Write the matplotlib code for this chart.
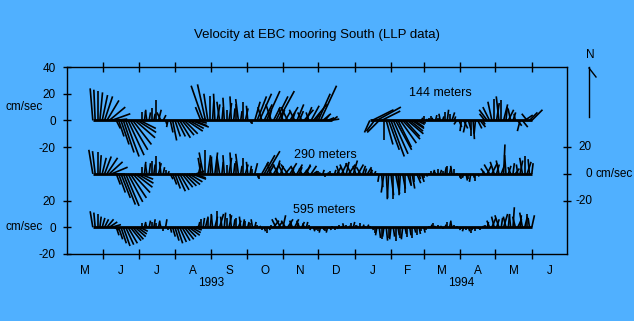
import numpy as np
import matplotlib
matplotlib.use('Agg')
import matplotlib.pyplot as plt
from matplotlib.collections import LineCollection
from matplotlib.lines import Line2D

nan = float('nan')

# ---------------- data ----------------
origin = np.datetime64('1993-05-01')
first_obs = np.datetime64('1993-05-23')
step_days = 2
end_date = np.datetime64('1994-07-01')

month_letters = ['M', 'J', 'J', 'A', 'S', 'O', 'N', 'D', 'J', 'F', 'M', 'A', 'M', 'J']
years = ['1993', '1994']
depth_labels = ['144 meters', '290 meters', '595 meters']

# 144 m (east / north components, cm/s)
u144 = [-2,-1,0, 2,4,6, 9,12,14, 10,3,4, 6,8,10,12,13, 14,15,14,12, 0,1,-1,1, 0,1,0,2, -3,2,1,
        -1,2,3,4, 6,8,9,10,12,11, 13,10,8,5,-4, -9,-6,-3, 0,1,-1,2,-2, 1,-1,0,2,-1,1,
        0,-2,1,0,2,-1, 1,0,4,7, 9,-3,6,10,2,-4, 5,9,12,3, -3,4,-5,6,2,-4,5,3,
        -3,7,4,-2,6,10,3, 9,12,6,3, 5,7,4,
        nan,nan,nan,nan,nan,nan,nan,nan,nan,nan,nan,nan,nan,nan,nan,
        -4,16,-6,18, -9,14,0, 5,8,10,11,12, 10,12,13,11,12, 10,9,7,6,5, 1,0,1,0,
        0,-1,1,0,-1,1,0, 1,0,2,1, -2,2,-1,3, -2,2,0,1,-1,3, 4,2,-4,-6,-5,
        -3,0,2,-2,0,3,1, 4,-2,2,-1,3, -2,4,6,-4,6,8]
v144 = [24,23,22, 21,19,18, 15,10,5, 1,-6,-12, -18,-24,-27,-26,-22, -18,-13,-9,-6, 6,8,7,6, 9,5,15,8, 6,4,-3,
        -5,-9,-15,-12, -12,-13,-11,-10,-8,-6, -5,-4,-2,1,10, 26,27,20, 18,15,20,12,14, 10,17,8,13,18,9,
        12,16,7,14,9,11, -2,-3,14,18, 20,10,12,22,8,12, 10,18,22,8, 9,7,10,10,6,8,12,7,
        6,8,10,6,11,12,5, 20,26,5,4, 2,1,3,
        nan,nan,nan,nan,nan,nan,nan,nan,nan,nan,nan,nan,nan,nan,nan,
        -9,8,-8,10, -9,7,-15, -18,-22,-27,-25,-22, -20,-17,-14,-12,-10, -8,-6,-5,-3,-2, 2,3,1,2,
        3,2,4,2,5,3,6, 8,5,6,3, -3,-5,-8,-6, -9,-7,-12,-14,-10,-6, -5,-3,5,8,10,
        14,16,13,18,15,12,10, 8,9,6,5,-4, -8,-5,4,5,6,8]

# 290 m
u290 = [-3,-2,0, 1,3,5, 8,10,12, 8,3,5, 7,9,10,11,12, 13,13,12,10, 0,1,-1,1, 0,1,0,2, -1,1,0,
        1,2,3,4, 6,7,8,9,10,10, 11,9,6,2,-2, -3,0,2, 1,-1,2,0,-2, 1,-1,0,2,-1,1,
        0,-2,1,0,2,-1, 1,0,2,1, 0,5,8,10,4,-3, 5,3,-4,2, -3,4,-5,5,1,-3,4,2,
        -2,5,3,-2,4,3,1, 0,-1,1,0, 1,0,-1,
        1,3,-2,4,-3,2,5,-4,3,-2,4,-3,2,1,3,
        2,-1,1,0, -1,1,-2, 1,-1,2,0,3, 1,-1,2,0,3, 1,2,0,3,1, 2,0,1,0,
        0,1,-1,0,1,0,1, 0,1,-1,0, 0,1,0,-1, 1,0,-1,1,0,1, 0,1,-3,3,-4,
        4,-3,2,-2,3,1,-1, 2,-2,1,3,-1, 2,-2,0,3,-1,1]
v290 = [18,17,16, 14,12,13, 12,9,5, 0,-8,-14, -18,-23,-24,-21,-18, -14,-10,-7,-4, 5,9,7,8, 10,7,13,8, 9,5,3,
        2,-4,-8,-11, -13,-12,-10,-9,-8,-6, -4,-3,2,8,12, 16,18,14, 13,12,16,11,13, 9,14,7,12,16,8,
        10,15,6,12,7,9, 6,4,8,-3, -4,9,14,17,7,8, 8,10,7,6, 6,5,7,8,4,6,7,5,
        4,6,7,3,6,2,1, 2,1,3,-2, 1,2,-1,
        3,5,6,8,7,9,7,8,10,6,7,5,6,4,5,
        3,4,2,1, -6,-10,-14, -18,-19,-16,-19,-15, -13,-16,-11,-14,-9, -8,-11,-6,-7,-4, -6,-3,-2,1,
        2,3,2,4,3,2,5, 6,5,6,4, 1,-3,-4,-3, -5,-4,-6,-3,-5,-2, -1,2,4,6,7,
        8,9,7,10,8,22,14, 6,5,8,4,7, 10,12,13,9,11,8]

# 595 m
u595 = [-2,-1,0, 1,2,3, 5,6,7, 4,2,3, 4,5,6,7,8, 8,8,7,6, 0,1,-1,1, 0,1,0,1, -1,0,1,
        0,1,2,3, 4,5,6,7,7,8, 7,6,3,1,0, 1,2,0, 1,-1,2,0,3, -1,1,0,2,-1,1,
        0,2,-1,1,0,1, 0,-1,1,0, 1,0,1,0,1,0, 4,-3,3,-4, 2,-3,4,1,-2,3,1,-2,
        2,-1,1,0,-1,1,0, 0,-1,1,0, -1,1,0,
        0,1,0,1,-1,0,1,0,1,0,-1,0,1,0,1,
        0,1,0,-1, 1,0,-1, 1,0,-1,1,0, 1,0,-1,1,0, 1,0,1,0,1, 0,1,0,0,
        1,0,-1,0,1,0,1, 0,1,-1,0, 0,1,0,-1, 0,1,0,-1,0,1, 0,1,0,1,-2,
        3,-2,2,-3,1,3,-2, 1,-1,1,-2,3, 1,-2,2,0,-1,2]
v595 = [12,11,10, 8,7,6, 6,4,2, -2,-6,-9, -12,-14,-13,-12,-10, -9,-7,-5,-3, 3,4,3,5, 4,6,3,5, 4,-3,6,
        -2,-4,-7,-10, -12,-11,-10,-9,-7,-6, -4,-2,1,4,6, 7,8,7, 9,10,8,12,10, 8,11,7,9,10,6,
        7,5,8,6,5,4, 3,6,4,2, 1,-2,-3,-4,-2,2, 5,6,4,7, 9,5,6,4,5,6,3,5,
        4,3,4,2,-2,-3,-2, -3,-4,-2,-3, -4,-2,1,
        -2,-1,2,1,3,2,1,3,4,2,1,3,2,1,2,
        1,-2,-4,-6, -8,-9,-7, -10,-8,-9,-7,-10, -6,-8,-9,-5,-7, -6,-8,-4,-6,-5, -3,-4,-2,1,
        2,3,1,2,1,-1,2, 4,5,4,2, 1,-2,-1,-3, -2,-3,-4,-2,-3,-1, -2,1,2,4,5,
        7,8,6,9,7,10,8, 10,9,15,8,6, 9,11,8,10,7,9]

# offsets (cm/s) of each record's zero line on the shared vertical scale
baselines = [80, 40, 0]

# ---------------- figure ----------------
BG = '#50B0FF'
W, H = 634, 321
plt.rcParams['font.family'] = ['Liberation Sans', 'DejaVu Sans']

fig = plt.figure(figsize=(W / 100, H / 100), dpi=100, facecolor=BG)
ax = fig.add_axes([67 / W, 67 / H, 500 / W, 187 / H])
ax.set_facecolor(BG)

xmax = float((end_date - origin).astype(int))
ax.set_xlim(0, xmax)
ax.set_ylim(-20, 120)

# month ticks
months = np.arange(np.datetime64('1993-05'), np.datetime64('1994-08'), dtype='datetime64[M]')
mstart = (months.astype('datetime64[D]') - origin).astype(float)
mids = (mstart[:-1] + mstart[1:]) / 2
ax.set_xticks(mstart[1:-1])
ax.set_xticklabels([])
ax.set_xticks(mids, minor=True)
ax.set_xticklabels(month_letters, minor=True)
ax.tick_params(axis='x', which='major', direction='inout', length=7, width=1,
               top=True, bottom=True)
ax.tick_params(axis='x', which='minor', length=0, pad=8, labelsize=8.5)

ax.set_yticks([120, 100, 80, 60, 20, 0, -20])
ax.set_yticklabels(['40', '20', '0', '-20', '20', '0', '-20'])
ax.tick_params(axis='y', direction='inout', length=6, width=1, pad=5, labelsize=8.5)
for s in ax.spines.values():
    s.set_linewidth(1)
    s.set_color('black')

ax2 = ax.twinx()
ax2.set_ylim(-20, 120)
ax2.set_yticks([60, 40, 20])
ax2.tick_params(axis='y', direction='inout', length=6, width=1, labelright=False)
ax2.patch.set_visible(False)
for s in ax2.spines.values():
    s.set_visible(False)

# stick scale so that vectors keep their true direction on screen
p0 = ax.transData.transform((0, 0))
p1 = ax.transData.transform((1, 1))
k = (p1[1] - p0[1]) / (p1[0] - p0[0])

t0 = float((first_obs - origin).astype(int))
for uu, vv, base in zip([u144, u290, u595], [v144, v290, v595], baselines):
    u = np.array(uu, dtype=float)
    v = np.array(vv, dtype=float)
    n = min(len(u), len(v))
    u, v = u[:n], v[:n]
    t = t0 + step_days * np.arange(n)
    ok = ~np.isnan(u) & ~np.isnan(v)
    segs = np.stack([np.column_stack([t[ok], np.full(ok.sum(), base)]),
                     np.column_stack([t[ok] + u[ok] * k, base + v[ok]])], axis=1)
    ax.add_collection(LineCollection(segs, colors='black', linewidths=1.2, capstyle='butt'))
    bl = np.where(ok, base, np.nan)
    ax.plot(t, bl, color='black', lw=2.0, solid_capstyle='butt')

# depth labels
ax.text(318, 100.5, depth_labels[0], ha='center', va='center', fontsize=9)
ax.text(220, 54, depth_labels[1], ha='center', va='center', fontsize=9)
ax.text(219, 13, depth_labels[2], ha='center', va='center', fontsize=9)

def fx(x):
    return x / W

def fy(y):
    return 1 - y / H

fig.text(fx(317), fy(35), 'Velocity at EBC mooring South (LLP data)', ha='center',
         va='center', fontsize=9.5)
fig.text(fx(211), fy(283), years[0], ha='center', va='center', fontsize=8.5)
fig.text(fx(461), fy(283), years[1], ha='center', va='center', fontsize=8.5)
fig.text(fx(5), fy(107), 'cm/sec', ha='left', va='center', fontsize=8.5)
fig.text(fx(5), fy(227), 'cm/sec', ha='left', va='center', fontsize=8.5)

for lab, yy in zip(['20', '0', '-20'], [147, 174, 201]):
    fig.text(fx(592), fy(yy), lab, ha='right', va='center', fontsize=8.5)
fig.text(fx(595), fy(174), 'cm/sec', ha='left', va='center', fontsize=8.5)

# north reference arrow
fig.add_artist(Line2D([fx(589), fx(589)], [fy(117), fy(67)], color='black', lw=1))
fig.add_artist(Line2D([fx(589), fx(596)], [fy(68), fy(77)], color='black', lw=1))
fig.text(fx(590), fy(55), 'N', ha='center', va='center', fontsize=8.5)

fig.savefig('out.png', dpi=100, facecolor=BG)
